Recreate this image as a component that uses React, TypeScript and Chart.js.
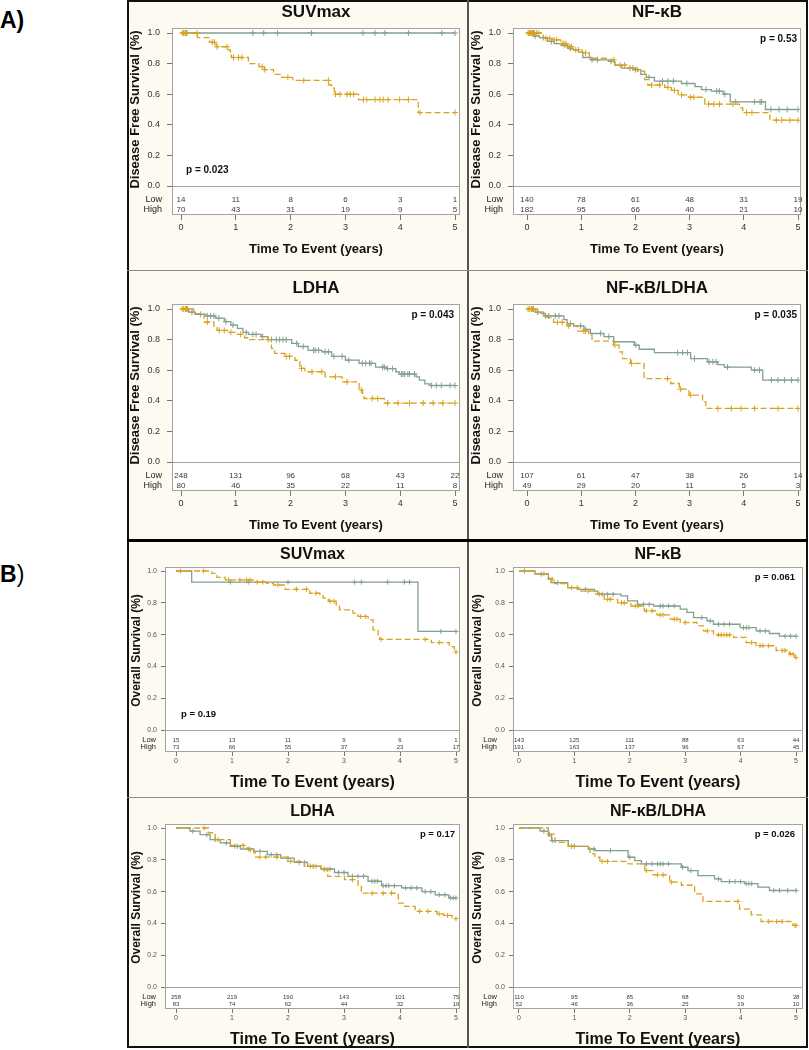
import React, { useEffect, useRef } from 'react';
import { Chart, registerables } from 'chart.js';
Chart.register(...registerables);

const FONT = '"Liberation Sans", Arial, Helvetica, sans-serif';
const GOLD = '#d9a21c';
const GRAY = '#84a08e';
const CREAM = '#fcfaf1';

const xTicks = [0, 1, 2, 3, 4, 5];
const yTicks = [0, 0.2, 0.4, 0.6, 0.8, 1.0];
const xTitleText = 'Time To Event (years)';
const dfsTitle = 'Disease Free Survival (%)';
const osTitle = 'Overall Survival (%)';

// ---------- A) Disease free survival ----------
// SUVmax
const a1LowT: number[] = [];
const a1LowS: number[] = [];
const a1LowC = [0.05, 0.1, 1.31, 1.51, 1.76, 2.38, 3.32, 3.54, 3.72, 4.15, 4.76, 5.0];
const a1HighT = [0.3, 0.52, 0.64, 0.86, 0.9, 0.92, 1.23, 1.42, 1.52, 1.69, 1.84, 2.04, 2.7, 2.75, 2.8, 3.24, 4.33];
const a1HighS = [0.97, 0.94, 0.91, 0.89, 0.86, 0.84, 0.8, 0.78, 0.76, 0.73, 0.71, 0.69, 0.66, 0.64, 0.6, 0.565, 0.48];
const a1HighC = [0.02, 0.05, 0.08, 0.11, 0.29, 0.57, 0.61, 0.66, 0.84, 0.96, 1.05, 1.11, 1.48, 1.53, 1.95, 2.24, 2.69, 2.82, 2.9, 3.03, 3.09, 3.15, 3.33, 3.39, 3.54, 3.63, 3.69, 3.78, 3.99, 4.15, 4.36, 5.0];
const a1RiskLow = [14, 11, 8, 6, 3, 1];
const a1RiskHigh = [70, 43, 31, 19, 9, 5];

// NF-kB
const a2LowT = [0.12, 0.23, 0.38, 0.5, 0.63, 0.75, 0.85, 0.95, 1.03, 1.18, 1.5, 1.62, 1.75, 1.98, 2.1, 2.2, 2.35, 2.85, 3.1, 3.22, 3.4, 3.62, 3.75, 4.4];
const a2LowS = [0.98, 0.97, 0.945, 0.93, 0.92, 0.9, 0.89, 0.875, 0.84, 0.825, 0.815, 0.79, 0.77, 0.76, 0.73, 0.71, 0.685, 0.67, 0.65, 0.63, 0.62, 0.6, 0.55, 0.5];
const a2LowC = [0.05, 0.15, 0.3, 0.45, 0.7, 0.8, 1.2, 1.3, 1.55, 1.9, 2.0, 2.25, 2.5, 2.6, 2.7, 2.95, 3.3, 3.5, 3.55, 3.65, 3.85, 4.2, 4.3, 4.33, 4.5, 4.65, 4.8, 5.0];
const a2HighT = [0.3, 0.47, 0.62, 0.74, 0.86, 1.02, 1.15, 1.5, 1.62, 1.86, 2.04, 2.17, 2.23, 2.54, 2.66, 2.79, 2.98, 3.28, 3.92, 3.98, 4.48];
const a2HighS = [0.965, 0.955, 0.93, 0.91, 0.89, 0.87, 0.835, 0.825, 0.79, 0.77, 0.75, 0.695, 0.66, 0.645, 0.625, 0.595, 0.58, 0.535, 0.51, 0.48, 0.43];
const a2HighC = [0.02, 0.04, 0.06, 0.08, 0.1, 0.12, 0.14, 0.18, 0.22, 0.35, 0.42, 0.5, 0.55, 0.65, 0.68, 0.72, 0.78, 0.82, 0.9, 0.95, 1.08, 1.6, 1.72, 1.8, 1.95, 2.3, 2.45, 2.6, 2.72, 2.85, 3.02, 3.08, 3.35, 3.45, 3.55, 3.8, 4.05, 4.15, 4.6, 4.7, 4.85, 5.0];
const a2RiskLow = [140, 78, 61, 48, 31, 19];
const a2RiskHigh = [182, 95, 66, 40, 21, 10];

// LDHA
const a3LowT = [0.14, 0.26, 0.45, 0.63, 0.79, 0.91, 1.03, 1.13, 1.23, 1.46, 1.59, 2.02, 2.14, 2.32, 2.57, 2.75, 3.0, 3.25, 3.55, 3.74, 3.92, 3.98, 4.29, 4.35, 4.45, 4.54];
const a3LowS = [0.98, 0.965, 0.955, 0.94, 0.917, 0.895, 0.873, 0.847, 0.834, 0.82, 0.8, 0.775, 0.755, 0.73, 0.72, 0.69, 0.666, 0.645, 0.62, 0.61, 0.59, 0.575, 0.557, 0.535, 0.51, 0.5];
const a3LowC = [0.2, 0.36, 0.48, 0.54, 0.6, 0.69, 0.82, 0.95, 1.19, 1.31, 1.37, 1.49, 1.65, 1.74, 1.8, 1.86, 1.92, 2.11, 2.23, 2.42, 2.45, 2.51, 2.63, 2.69, 2.79, 2.94, 3.06, 3.31, 3.37, 3.44, 3.47, 3.68, 3.71, 3.77, 3.86, 4.02, 4.05, 4.08, 4.14, 4.17, 4.26, 4.57, 4.66, 4.75, 4.91, 5.0];
const a3HighT = [0.23, 0.42, 0.6, 0.66, 0.85, 1.03, 1.16, 1.25, 1.65, 1.71, 1.89, 2.08, 2.17, 2.26, 2.63, 2.94, 3.25, 3.31, 3.34, 3.71];
const a3HighS = [0.97, 0.915, 0.88, 0.86, 0.847, 0.834, 0.812, 0.8, 0.742, 0.71, 0.69, 0.665, 0.612, 0.59, 0.557, 0.524, 0.47, 0.448, 0.415, 0.385];
const a3HighC = [0.02, 0.05, 0.08, 0.1, 0.12, 0.48, 0.7, 0.79, 0.91, 1.09, 1.59, 1.92, 1.98, 2.2, 2.39, 2.57, 2.82, 3.03, 3.29, 3.49, 3.59, 3.77, 3.96, 4.17, 4.42, 4.6, 4.78, 5.0];
const a3RiskLow = [248, 131, 96, 68, 43, 22];
const a3RiskHigh = [80, 46, 35, 22, 11, 8];

// NF-kB/LDHA
const a4LowT = [0.15, 0.31, 0.68, 0.74, 0.86, 1.05, 1.17, 1.42, 1.6, 1.98, 2.07, 2.35, 3.02, 3.33, 3.52, 3.64, 4.14, 4.35];
const a4LowS = [0.98, 0.955, 0.93, 0.905, 0.89, 0.867, 0.84, 0.82, 0.786, 0.764, 0.737, 0.715, 0.676, 0.655, 0.637, 0.62, 0.6, 0.535];
const a4LowC = [0.2, 0.34, 0.4, 0.52, 0.59, 0.8, 0.99, 1.08, 1.36, 1.51, 2.01, 2.78, 2.87, 2.96, 3.09, 3.36, 3.43, 3.49, 3.7, 4.2, 4.29, 4.51, 4.63, 4.75, 4.88, 5.0];
const a4HighT = [0.19, 0.37, 0.49, 0.74, 0.93, 1.14, 1.2, 1.6, 1.7, 1.76, 1.91, 2.16, 2.65, 2.81, 2.99, 3.24, 3.3];
const a4HighS = [0.97, 0.943, 0.913, 0.89, 0.856, 0.83, 0.79, 0.764, 0.72, 0.676, 0.644, 0.545, 0.513, 0.476, 0.437, 0.393, 0.35];
const a4HighC = [0.02, 0.05, 0.08, 0.1, 0.12, 0.56, 0.65, 0.77, 1.05, 1.08, 1.62, 1.93, 2.59, 2.83, 3.02, 3.52, 3.77, 3.95, 4.2, 4.63, 5.0];
const a4RiskLow = [107, 61, 47, 38, 26, 14];
const a4RiskHigh = [49, 29, 20, 11, 5, 3];

// ---------- B) Overall survival ----------
// SUVmax
const b1LowT = [0.28, 4.32];
const b1LowS = [0.93, 0.62];
const b1LowC = [0.97, 1.29, 2.0, 3.19, 3.31, 3.78, 4.08, 4.17, 4.73, 5.0];
const b1HighT = [0.64, 0.73, 0.88, 1.38, 1.62, 1.74, 1.95, 2.39, 2.57, 2.63, 2.72, 2.86, 2.92, 3.16, 3.25, 3.43, 3.52, 3.61, 3.64, 4.56, 4.88, 4.97];
const b1HighS = [0.985, 0.96, 0.944, 0.93, 0.923, 0.912, 0.885, 0.86, 0.843, 0.83, 0.81, 0.787, 0.756, 0.735, 0.714, 0.693, 0.63, 0.59, 0.57, 0.55, 0.525, 0.49];
const b1HighC = [0.08, 0.49, 0.94, 1.14, 1.26, 1.32, 1.45, 1.55, 1.82, 2.15, 2.33, 2.5, 2.75, 2.82, 3.3, 3.38, 3.66, 4.45, 4.7, 5.0];
const b1RiskLow = [15, 13, 11, 9, 6, 1];
const b1RiskHigh = [73, 66, 55, 37, 23, 17];

// NF-kB
const b2LowT = [0.29, 0.53, 0.58, 0.88, 1.06, 1.36, 1.42, 1.84, 1.96, 2.14, 2.43, 2.91, 3.03, 3.15, 3.39, 3.51, 3.99, 4.28, 4.52, 4.7];
const b2LowS = [0.98, 0.954, 0.927, 0.895, 0.885, 0.874, 0.854, 0.843, 0.812, 0.79, 0.78, 0.76, 0.74, 0.707, 0.686, 0.665, 0.644, 0.623, 0.607, 0.59];
const b2LowC = [0.1, 0.4, 0.7, 1.2, 1.5, 1.6, 1.7, 2.25, 2.35, 2.55, 2.6, 2.7, 2.8, 3.3, 3.45, 3.6, 3.7, 3.8, 4.05, 4.1, 4.15, 4.35, 4.45, 4.8, 4.9, 5.0];
const b2HighT = [0.29, 0.53, 0.64, 0.88, 1.12, 1.36, 1.54, 1.78, 2.02, 2.26, 2.49, 2.73, 2.91, 3.21, 3.33, 3.51, 3.87, 4.1, 4.28, 4.64, 4.88, 4.98];
const b2HighS = [0.983, 0.948, 0.92, 0.895, 0.874, 0.854, 0.822, 0.8, 0.78, 0.75, 0.724, 0.697, 0.676, 0.655, 0.623, 0.598, 0.582, 0.55, 0.53, 0.5, 0.477, 0.455];
const b2HighC = [0.1, 0.45, 0.6, 0.95, 1.05, 1.25, 1.45, 1.6, 1.65, 1.85, 1.9, 2.1, 2.15, 2.3, 2.4, 2.55, 2.6, 2.8, 2.85, 3.0, 3.4, 3.6, 3.65, 3.7, 3.75, 3.8, 4.2, 4.35, 4.4, 4.5, 4.75, 4.8, 4.9, 4.95, 5.0];
const b2RiskLow = [143, 125, 111, 88, 63, 44];
const b2RiskHigh = [191, 163, 137, 96, 67, 45];

// LDHA
const b3LowT = [0.25, 0.43, 0.61, 0.79, 0.97, 1.15, 1.39, 1.63, 1.87, 2.11, 2.35, 2.59, 2.83, 3.07, 3.43, 3.67, 4.03, 4.39, 4.63, 4.87];
const b3LowS = [0.98, 0.958, 0.927, 0.906, 0.885, 0.868, 0.853, 0.832, 0.81, 0.784, 0.759, 0.742, 0.72, 0.696, 0.665, 0.637, 0.623, 0.6, 0.58, 0.56];
const b3LowC = [0.3, 0.55, 0.7, 0.9, 1.05, 1.1, 1.3, 1.5, 1.7, 1.8, 2.0, 2.2, 2.3, 2.45, 2.65, 2.75, 2.9, 3.0, 3.15, 3.25, 3.35, 3.5, 3.55, 3.6, 3.7, 3.75, 3.8, 3.9, 4.1, 4.2, 4.3, 4.45, 4.55, 4.7, 4.8, 4.9, 4.95, 5.0];
const b3HighT = [0.58, 0.7, 0.97, 1.27, 1.39, 1.42, 1.99, 2.29, 2.59, 2.71, 3.01, 3.25, 3.31, 3.97, 4.09, 4.27, 4.66, 4.78, 4.93];
const b3HighS = [0.97, 0.927, 0.89, 0.864, 0.843, 0.817, 0.79, 0.76, 0.738, 0.696, 0.675, 0.633, 0.59, 0.528, 0.507, 0.476, 0.46, 0.45, 0.43];
const b3HighC = [0.5, 0.75, 1.2, 1.33, 1.5, 1.6, 1.8, 2.05, 2.4, 2.5, 2.65, 2.7, 3.15, 3.5, 3.7, 3.85, 4.35, 4.5, 4.7, 4.85, 5.0];
const b3RiskLow = [258, 219, 190, 143, 101, 75];
const b3RiskHigh = [83, 74, 62, 44, 32, 16];

// NF-kB/LDHA
const b4LowT = [0.38, 0.53, 0.59, 0.89, 1.25, 1.37, 1.97, 2.09, 2.21, 2.93, 3.05, 3.23, 3.53, 3.65, 4.07, 4.31, 4.52];
const b4LowS = [0.98, 0.95, 0.92, 0.885, 0.868, 0.858, 0.816, 0.795, 0.774, 0.753, 0.732, 0.7, 0.68, 0.663, 0.65, 0.628, 0.607];
const b4LowC = [0.45, 0.6, 0.95, 1.0, 1.35, 1.65, 2.0, 2.3, 2.4, 2.5, 2.55, 2.6, 2.7, 2.95, 3.1, 3.6, 3.8, 3.9, 4.0, 4.1, 4.15, 4.2, 4.6, 4.7, 4.85, 5.0];
const b4HighT = [0.53, 0.65, 0.89, 1.28, 1.37, 1.46, 1.97, 2.27, 2.42, 2.72, 2.93, 3.17, 3.32, 3.98, 4.19, 4.37, 4.94];
const b4HighS = [0.962, 0.91, 0.885, 0.837, 0.816, 0.79, 0.774, 0.732, 0.705, 0.66, 0.64, 0.586, 0.538, 0.49, 0.454, 0.412, 0.387];
const b4HighC = [0.55, 0.95, 1.5, 1.6, 2.3, 2.5, 2.6, 2.75, 3.95, 4.5, 4.65, 4.75, 4.98, 5.0];
const b4RiskLow = [110, 95, 85, 68, 50, 38];
const b4RiskHigh = [52, 46, 36, 25, 19, 10];

const titles = ['SUVmax', 'NF-\u03baB', 'LDHA', 'NF-\u03baB/LDHA'];
const pA = ['p = 0.023', 'p = 0.53', 'p = 0.043', 'p = 0.035'];
const pB = ['p = 0.19', 'p = 0.061', 'p = 0.17', 'p = 0.026'];

// ---------- layout (not data) ----------
const GEO_A = {
  titleY: 18, titleSize: 17, boxT: 34, y1: 39, y0: 192, boxB: 221, lowY: 206, highY: 216,
  xTitleY: 255, xTitleSize: 13, yTitleX: 8, yTitleSize: 13, yTickSize: 9, xTickSize: 9,
  riskSize: 8, lhSize: 9, lhRight: 35, pSize: 10, tickLen: 5, yTickPad: 7, xTickPad: 2,
  mark: 3, tickColor: '#333',
  cols: [{ boxL: 45, boxR: 333, x0: 54, x5: 328 }, { boxL: 45, boxR: 333, x0: 59, x5: 330 }],
};
const GEO_B = {
  titleY: 15, titleSize: 16, boxT: 27, y1: 31, y0: 190, boxB: 212, lowY: 200, highY: 207,
  xTitleY: 243, xTitleSize: 16, yTitleX: 10, yTitleSize: 12, yTickSize: 7, xTickSize: 7,
  riskSize: 6, lhSize: 7.5, lhRight: 29, pSize: 9.5, tickLen: 4, yTickPad: 4, xTickPad: 1,
  mark: 2.5, tickColor: '#555',
  cols: [{ boxL: 38, boxR: 333, x0: 49, x5: 329 }, { boxL: 45, boxR: 337, x0: 51, x5: 330 }],
};

type Curve = { T: number[]; S: number[]; C: number[] };
type PanelDef = {
  key: string; title: string; p: string; pCorner: 'bl' | 'tr'; yTitle: string;
  geo: typeof GEO_A; col: number; left: number; top: number; w: number; h: number; dy: number;
  low: Curve; high: Curve; riskLow: number[]; riskHigh: number[];
};

const COLS = [{ left: 127, w: 341 }, { left: 468, w: 340 }];
const ROWS = [{ top: 0, h: 270, dy: -6 }, { top: 270, h: 270, dy: 0 }, { top: 540, h: 257, dy: 0 }, { top: 797, h: 251, dy: 0 }];

const mk = (key: string, r: number, c: number, title: string, p: string, low: Curve, high: Curve, rl: number[], rh: number[]): PanelDef => ({
  key, title, p, pCorner: c === 0 && (r === 0 || r === 2) ? 'bl' : 'tr',
  yTitle: r < 2 ? dfsTitle : osTitle, geo: r < 2 ? GEO_A : GEO_B, col: c,
  left: COLS[c].left, w: COLS[c].w, top: ROWS[r].top, h: ROWS[r].h, dy: ROWS[r].dy,
  low, high, riskLow: rl, riskHigh: rh,
});

const panels: PanelDef[] = [
  mk('a1', 0, 0, titles[0], pA[0], { T: a1LowT, S: a1LowS, C: a1LowC }, { T: a1HighT, S: a1HighS, C: a1HighC }, a1RiskLow, a1RiskHigh),
  mk('a2', 0, 1, titles[1], pA[1], { T: a2LowT, S: a2LowS, C: a2LowC }, { T: a2HighT, S: a2HighS, C: a2HighC }, a2RiskLow, a2RiskHigh),
  mk('a3', 1, 0, titles[2], pA[2], { T: a3LowT, S: a3LowS, C: a3LowC }, { T: a3HighT, S: a3HighS, C: a3HighC }, a3RiskLow, a3RiskHigh),
  mk('a4', 1, 1, titles[3], pA[3], { T: a4LowT, S: a4LowS, C: a4LowC }, { T: a4HighT, S: a4HighS, C: a4HighC }, a4RiskLow, a4RiskHigh),
  mk('b1', 2, 0, titles[0], pB[0], { T: b1LowT, S: b1LowS, C: b1LowC }, { T: b1HighT, S: b1HighS, C: b1HighC }, b1RiskLow, b1RiskHigh),
  mk('b2', 2, 1, titles[1], pB[1], { T: b2LowT, S: b2LowS, C: b2LowC }, { T: b2HighT, S: b2HighS, C: b2HighC }, b2RiskLow, b2RiskHigh),
  mk('b3', 3, 0, titles[2], pB[2], { T: b3LowT, S: b3LowS, C: b3LowC }, { T: b3HighT, S: b3HighS, C: b3HighC }, b3RiskLow, b3RiskHigh),
  mk('b4', 3, 1, titles[3], pB[3], { T: b4LowT, S: b4LowS, C: b4LowC }, { T: b4HighT, S: b4HighS, C: b4HighC }, b4RiskLow, b4RiskHigh),
];

function kmAt(T: number[], S: number[], t: number) {
  let s = 1;
  for (let i = 0; i < T.length; i++) if (T[i] <= t) s = S[i];
  return s;
}
function stepPoints(c: Curve) {
  const pts = [{ x: 0, y: 1 }];
  c.T.forEach((t, i) => pts.push({ x: t, y: c.S[i] }));
  const lastT = c.T.length ? c.T[c.T.length - 1] : 0;
  const end = Math.max(lastT, ...c.C);
  if (end > lastT) pts.push({ x: end, y: c.S.length ? c.S[c.S.length - 1] : 1 });
  return pts;
}
function censorPoints(c: Curve) {
  return c.C.map((t) => ({ x: t, y: kmAt(c.T, c.S, t) }));
}

function KMPanel({ pd }: { pd: PanelDef }) {
  const ref = useRef<HTMLCanvasElement>(null);
  useEffect(() => {
    const g = pd.geo;
    const cg = g.cols[pd.col];
    const dy = pd.dy;
    const xu = (cg.x5 - cg.x0) / 5;
    const yu = g.y0 - g.y1;
    const xmin = -(cg.x0 - cg.boxL) / xu;
    const xmax = 5 + (cg.boxR - cg.x5) / xu;
    const ymax = 1 + (g.y1 - g.boxT) / yu;
    const ymin = -(g.boxB - g.y0) / yu;

    const deco = {
      id: 'kmDeco',
      beforeDraw(chart: any) {
        const { ctx, chartArea: a } = chart;
        ctx.save();
        ctx.fillStyle = '#ffffff';
        ctx.fillRect(a.left, a.top, a.right - a.left, a.bottom - a.top);
        ctx.restore();
      },
      afterDraw(chart: any) {
        const { ctx, chartArea: a, scales } = chart;
        const x = scales.x, y = scales.y;
        ctx.save();
        ctx.strokeStyle = '#a3a3a3';
        ctx.lineWidth = 1;
        ctx.strokeRect(a.left + 0.5, a.top + 0.5, a.right - a.left - 1, a.bottom - a.top - 1);
        const cx = (a.left + a.right) / 2;
        ctx.fillStyle = '#111';
        ctx.textAlign = 'center';
        ctx.textBaseline = 'middle';
        ctx.font = `bold ${g.titleSize}px ${FONT}`;
        ctx.fillText(pd.title, cx, g.titleY + dy);
        ctx.font = `bold ${g.xTitleSize}px ${FONT}`;
        ctx.fillText(xTitleText, cx, g.xTitleY + dy);
        ctx.save();
        ctx.translate(g.yTitleX, (y.getPixelForValue(0) + y.getPixelForValue(1)) / 2);
        ctx.rotate(-Math.PI / 2);
        ctx.font = `bold ${g.yTitleSize}px ${FONT}`;
        ctx.fillText(pd.yTitle, 0, 0);
        ctx.restore();
        // risk table
        ctx.fillStyle = '#3a3a3a';
        ctx.font = `${g.riskSize}px ${FONT}`;
        pd.riskLow.forEach((n, i) => ctx.fillText(String(n), x.getPixelForValue(xTicks[i]), g.lowY + dy));
        pd.riskHigh.forEach((n, i) => ctx.fillText(String(n), x.getPixelForValue(xTicks[i]), g.highY + dy));
        ctx.textAlign = 'right';
        ctx.font = `${g.lhSize}px ${FONT}`;
        ctx.fillStyle = '#222';
        ctx.fillText('Low', g.lhRight, g.lowY + dy);
        ctx.fillText('High', g.lhRight, g.highY + dy);
        // p value
        ctx.fillStyle = '#111';
        ctx.font = `bold ${g.pSize}px ${FONT}`;
        if (pd.pCorner === 'bl') {
          ctx.textAlign = 'left';
          ctx.fillText(pd.p, x.getPixelForValue(0) + 5, y.getPixelForValue(0.1));
        } else {
          ctx.textAlign = 'right';
          ctx.fillText(pd.p, x.getPixelForValue(5) - 1, y.getPixelForValue(0.96));
        }
        ctx.restore();
      },
    };

    const chart = new Chart(ref.current as HTMLCanvasElement, {
      type: 'scatter',
      data: {
        datasets: [
          { data: censorPoints(pd.high), pointStyle: 'cross', pointRadius: g.mark, borderColor: GOLD, backgroundColor: GOLD, borderWidth: 1, showLine: false } as any,
          { data: stepPoints(pd.high), showLine: true, stepped: true, borderColor: GOLD, borderWidth: 1.3, borderDash: [6, 3], pointRadius: 0, fill: false } as any,
          { data: censorPoints(pd.low), pointStyle: 'cross', pointRadius: g.mark, borderColor: GRAY, backgroundColor: GRAY, borderWidth: 1, showLine: false } as any,
          { data: stepPoints(pd.low), showLine: true, stepped: true, borderColor: GRAY, borderWidth: 1.3, pointRadius: 0, fill: false } as any,
        ],
      },
      options: {
        responsive: false,
        animation: false,
        events: [],
        layout: { padding: { top: g.boxT + dy, right: pd.w - cg.boxR, left: 0, bottom: 0 } },
        plugins: { legend: { display: false }, title: { display: false }, tooltip: { enabled: false } },
        scales: {
          x: {
            type: 'linear', min: xmin, max: xmax,
            afterFit: (s: any) => { s.height = pd.h - (g.boxB + dy); },
            afterBuildTicks: (s: any) => { s.ticks = xTicks.map((v) => ({ value: v })); },
            ticks: { font: { family: FONT, size: g.xTickSize }, color: g.tickColor, padding: g.xTickPad, autoSkip: false, maxRotation: 0, callback: (v: any) => String(v) },
            grid: { drawOnChartArea: false, tickLength: g.tickLen, color: '#777', tickColor: '#777' },
            border: { display: false },
          },
          y: {
            type: 'linear', min: ymin, max: ymax,
            afterFit: (s: any) => { s.width = cg.boxL; },
            afterBuildTicks: (s: any) => { s.ticks = yTicks.map((v) => ({ value: v })); },
            ticks: { font: { family: FONT, size: g.yTickSize }, color: g.tickColor, padding: g.yTickPad, autoSkip: false, callback: (v: any) => Number(v).toFixed(1) },
            grid: {
              drawOnChartArea: true, tickLength: g.tickLen, tickColor: '#777',
              color: (c: any) => (c.tick && Math.abs(c.tick.value) < 1e-9 ? '#a3a3a3' : 'rgba(0,0,0,0)'),
            },
            border: { display: false },
          },
        },
      } as any,
      plugins: [deco],
    });
    return () => chart.destroy();
  }, [pd]);
  return (
    <canvas
      ref={ref}
      width={pd.w}
      height={pd.h}
      style={{ position: 'absolute', left: pd.left, top: pd.top, width: pd.w, height: pd.h }}
    />
  );
}

const line = (left: number, top: number, width: number, height: number, color: string) => (
  <div style={{ position: 'absolute', left, top, width, height, background: color }} />
);

export default function App() {
  return (
    <div style={{ position: 'absolute', left: 0, top: 0, width: 809, height: 1050, background: '#fff', fontFamily: FONT, overflow: 'hidden' }}>
      <div style={{ position: 'absolute', left: 127, top: 0, width: 681, height: 1048, background: CREAM }} />
      {panels.map((pd) => <KMPanel key={pd.key} pd={pd} />)}
      {line(127, 0, 681, 2, '#111')}
      {line(127, 0, 2, 1048, '#111')}
      {line(806, 0, 2, 1048, '#111')}
      {line(127, 1046, 681, 2, '#111')}
      {line(467, 0, 2, 1048, '#555')}
      {line(127, 270, 681, 1, '#888')}
      {line(127, 797, 681, 1, '#888')}
      {line(127, 539, 681, 3, '#000')}
      <div style={{ position: 'absolute', left: 0, top: 6, fontSize: 23, fontWeight: 'bold', lineHeight: '28px', color: '#000' }}>A)</div>
      <div style={{ position: 'absolute', left: 0, top: 560, fontSize: 23, lineHeight: '28px', color: '#000' }}>
        <span style={{ fontWeight: 'bold' }}>B</span>)
      </div>
    </div>
  );
}
